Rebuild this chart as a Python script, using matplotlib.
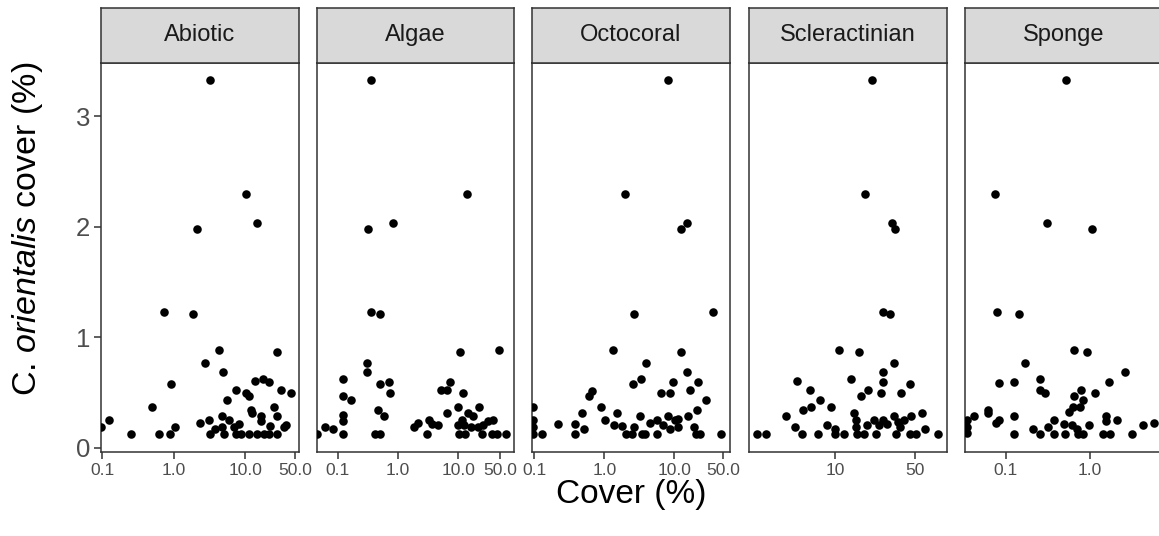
import matplotlib
matplotlib.use("Agg")
import matplotlib.pyplot as plt
from matplotlib.ticker import FixedLocator, NullLocator

plt.rcParams["font.family"] = ["Liberation Sans", "DejaVu Sans"]
plt.rcParams["mathtext.fontset"] = "custom"
plt.rcParams["mathtext.rm"] = "Liberation Sans"
plt.rcParams["mathtext.it"] = "Liberation Sans:italic"

# Benthic cover (%) per category, against C. orientalis cover (%)
abiotic_x = [0.096, 0.125, 0.25, 0.50, 0.63, 0.88, 0.92, 1.05, 2.29, 2.75, 3.13, 3.23, 3.72, 4.23,
             4.71, 4.71, 4.92, 4.97, 5.6, 5.97, 6.94, 7.48, 7.48, 8.24, 8.79, 10.2, 11.1, 11.1,
             12.1, 12.4, 13.8, 14.3, 16.6, 16.6, 17.7, 18.1, 21.2, 21.7, 21.2, 24.7, 27.8, 27.5,
             27.8, 31.6, 34.4, 36.3, 42.8, 3.23, 10.3, 14.3, 2.1, 0.74, 1.85]
abiotic_y = [0.184, 0.248, 0.121, 0.372, 0.121, 0.121, 0.58, 0.184, 0.224, 0.767, 0.248, 0.121, 0.166, 0.882,
             0.287, 0.184, 0.683, 0.121, 0.435, 0.248, 0.19, 0.52, 0.121, 0.218, 0.121, 0.499, 0.466, 0.121,
             0.342, 0.312, 0.602, 0.121, 0.287, 0.245, 0.62, 0.121, 0.598, 0.196, 0.121, 0.372, 0.87, 0.287,
             0.121, 0.52, 0.19, 0.205, 0.499, 3.327, 2.30, 2.03, 1.98, 1.232, 1.21]

algae_x = [0.046, 0.0625, 0.083, 0.122, 0.122, 0.122, 0.122, 0.122, 0.169, 0.31, 0.31, 0.42, 0.50, 0.466,
           0.50, 0.586, 0.71, 0.746, 1.87, 2.17, 3.06, 3.3, 3.61, 4.66, 5.16, 6.41, 6.58, 7.18,
           10.0, 10.0, 10.3, 10.9, 11.4, 11.8, 12.9, 12.4, 14.8, 17.3, 16.4, 22.3, 21.4, 24.4,
           26.0, 31.4, 38.0, 35.7, 43.2, 47.8, 61.0, 0.356, 13.9, 0.322, 0.817, 0.356, 0.504]
algae_y = [0.121, 0.184, 0.166, 0.619, 0.465, 0.293, 0.245, 0.121, 0.435, 0.767, 0.683, 0.121, 0.121, 0.342,
           0.58, 0.287, 0.598, 0.499, 0.184, 0.224, 0.121, 0.251, 0.212, 0.205, 0.52, 0.52, 0.312, 0.598,
           0.372, 0.205, 0.121, 0.87, 0.251, 0.499, 0.121, 0.205, 0.318, 0.287, 0.184, 0.372, 0.184, 0.121,
           0.205, 0.245, 0.251, 0.121, 0.121, 0.885, 0.121, 3.327, 2.30, 1.98, 2.03, 1.232, 1.21]

octocoral_x = [0.097, 0.097, 0.097, 0.097, 0.127, 0.219, 0.378, 0.378, 0.481, 0.508, 0.605, 0.675, 0.887, 1.01,
               1.33, 1.37, 1.53, 1.78, 2.01, 2.5, 2.56, 2.64, 3.29, 3.25, 4.0, 3.44, 3.83, 4.51,
               5.61, 5.67, 6.46, 6.82, 8.22, 8.68, 8.68, 9.46, 10.2, 11.1, 11.1, 12.4, 15.1, 15.8,
               16.9, 18.8, 20.8, 20.3, 23.2, 21.9, 28.2, 46.6, 8.04, 1.95, 12.4, 15.0, 35.1, 2.64]
octocoral_y = [0.372, 0.251, 0.184, 0.121, 0.121, 0.212, 0.212, 0.121, 0.312, 0.166, 0.465, 0.514, 0.372, 0.251,
               0.882, 0.205, 0.312, 0.196, 0.121, 0.121, 0.58, 0.19, 0.619, 0.287, 0.767, 0.121, 0.121, 0.221,
               0.121, 0.251, 0.499, 0.205, 0.287, 0.499, 0.166, 0.598, 0.251, 0.184, 0.257, 0.87, 0.683, 0.287,
               0.52, 0.19, 0.342, 0.121, 0.121, 0.598, 0.435, 0.121, 3.327, 2.30, 1.98, 2.03, 1.232, 1.21]

scler_x = [2.07, 2.46, 3.66, 4.44, 4.63, 5.05, 5.21, 5.93, 6.05, 7.1, 7.39, 8.51, 9.23, 10.0,
           10.0, 10.7, 11.9, 13.6, 14.5, 15.1, 15.1, 15.3, 16.0, 16.9, 17.7, 19.3, 18.9, 21.6,
           22.8, 24.1, 25.2, 26.1, 26.1, 26.1, 28.3, 32.6, 32.4, 34.1, 35.3, 37.2, 36.5, 39.5,
           44.7, 46.2, 44.7, 51.0, 57.2, 60.4, 78.3, 20.9, 18.3, 31.3, 33.4, 26.1, 29.9]
scler_y = [0.121, 0.121, 0.287, 0.184, 0.602, 0.121, 0.342, 0.52, 0.372, 0.121, 0.435, 0.205, 0.372, 0.166,
           0.121, 0.885, 0.121, 0.619, 0.318, 0.251, 0.184, 0.121, 0.87, 0.465, 0.121, 0.52, 0.205, 0.251,
           0.121, 0.205, 0.499, 0.598, 0.683, 0.251, 0.212, 0.767, 0.287, 0.121, 0.236, 0.499, 0.184, 0.251,
           0.58, 0.287, 0.121, 0.121, 0.318, 0.166, 0.121, 3.327, 2.30, 2.03, 1.98, 1.232, 1.21]

sponge_x = [0.0346, 0.0346, 0.0346, 0.0427, 0.0624, 0.0624, 0.0762, 0.0834, 0.0834, 0.125, 0.125, 0.125,
            0.168, 0.208, 0.252, 0.252, 0.292, 0.252, 0.313, 0.376, 0.376, 0.493, 0.502, 0.565, 0.602,
            0.631, 0.648, 0.648, 0.69, 0.708, 0.755, 0.776, 0.812, 0.812, 0.922, 0.964, 1.13, 1.43,
            1.53, 1.53, 1.66, 1.71, 2.1, 2.55, 3.16, 4.26, 5.65, 0.512, 0.0755, 0.311, 1.04, 0.079, 0.1426]
sponge_y = [0.251, 0.19, 0.136, 0.287, 0.342, 0.312, 0.221, 0.251, 0.583, 0.598, 0.287, 0.121,
            0.767, 0.166, 0.619, 0.52, 0.499, 0.121, 0.184, 0.251, 0.121, 0.212, 0.121, 0.327, 0.205,
            0.372, 0.885, 0.465, 0.166, 0.121, 0.372, 0.52, 0.435, 0.121, 0.87, 0.205, 0.499, 0.121,
            0.287, 0.245, 0.598, 0.121, 0.251, 0.683, 0.121, 0.205, 0.221, 3.327, 2.30, 2.03, 1.98, 1.232, 1.21]

categories = ["Abiotic", "Algae", "Octocoral", "Scleractinian", "Sponge"]
xs = [abiotic_x, algae_x, octocoral_x, scler_x, sponge_x]
ys = [abiotic_y, algae_y, octocoral_y, scler_y, sponge_y]

# free log x scales per facet
x_limits = [(0.096, 55.1), (0.0449, 84.9), (0.0938, 61.8), (1.75, 93.8), (0.033, 7.16)]
x_breaks = [[0.1, 1, 10, 50], [0.1, 1, 10, 50], [0.1, 1, 10, 50], [10, 50], [0.1, 1]]
x_labels = [["0.1", "1.0", "10.0", "50.0"]] * 3 + [["10", "50"], ["0.1", "1.0"]]
y_breaks = [0, 1, 2, 3]

W, H = 1159, 536
fig = plt.figure(figsize=(W / 100, H / 100), dpi=100)

panel_left = [101, 316.7, 532.3, 749, 965]
panel_w = 197.5
panel_top, panel_bottom = 63, 452
strip_top = 7.5

border = "#333333"
for i, cat in enumerate(categories):
    l = panel_left[i] / W
    ax = fig.add_axes([l, (H - panel_bottom) / H, panel_w / W, (panel_bottom - panel_top) / H])
    ax.scatter(xs[i], ys[i], s=38, color="black", linewidths=0, zorder=3)
    ax.set_xscale("log")
    ax.set_xlim(*x_limits[i])
    ax.set_ylim(-0.039, 3.483)
    ax.xaxis.set_major_locator(FixedLocator(x_breaks[i]))
    ax.xaxis.set_minor_locator(NullLocator())
    ax.set_xticklabels(x_labels[i])
    ax.set_yticks(y_breaks)
    if i > 0:
        ax.tick_params(axis="y", left=False, labelleft=False)
    ax.tick_params(axis="x", length=5, width=1.1, color=border, labelsize=12.5,
                   labelcolor="#4D4D4D", pad=3)
    ax.tick_params(axis="y", length=5, width=1.1, color=border, labelsize=18.5,
                   labelcolor="#4D4D4D", pad=3)
    for sp in ax.spines.values():
        sp.set_color(border)
        sp.set_linewidth(1.1)

    # facet strip
    sax = fig.add_axes([l, (H - panel_top) / H, panel_w / W, (panel_top - strip_top) / H])
    sax.set_facecolor("#D9D9D9")
    sax.set_xticks([])
    sax.set_yticks([])
    for sp in sax.spines.values():
        sp.set_color(border)
        sp.set_linewidth(1.1)
    sax.text(0.5, 0.5, cat, ha="center", va="center", fontsize=17, color="#1A1A1A",
             transform=sax.transAxes)

fig.text((101 + 965 + panel_w) / 2 / W, (H - 494) / H, "Cover (%)", ha="center", va="center",
         fontsize=24, color="black")
fig.text(28 / W, (H - 229) / H, r"C. $\mathit{orientalis}$ cover (%)", rotation=90,
         ha="center", va="center", fontsize=24.5, color="black")

fig.savefig("out.png", dpi=100)
